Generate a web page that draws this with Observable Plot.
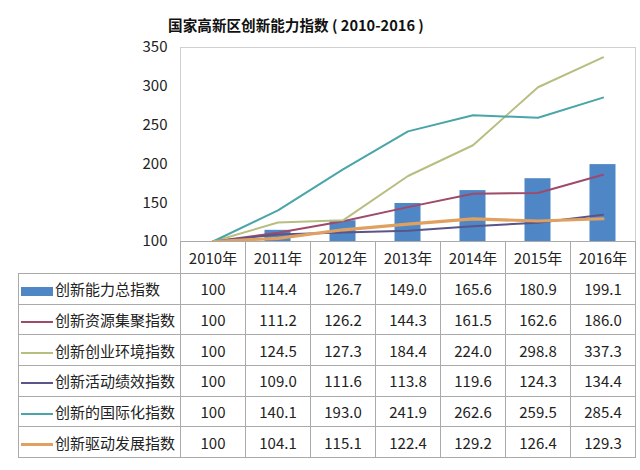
<!DOCTYPE html>
<html><head><meta charset="utf-8">
<script src="https://cdn.jsdelivr.net/npm/d3@7"></script>
<script src="https://cdn.jsdelivr.net/npm/@observablehq/plot@0.6"></script>
<style>
body{margin:0;background:#fff;width:640px;height:470px;overflow:hidden;font-family:"Noto Sans CJK SC","Noto Sans",sans-serif;}
#wrap{position:relative;width:640px;height:470px;}
#title{position:absolute;top:14px;left:0;width:592px;text-align:center;font-size:14.6px;font-weight:bold;color:#111;}
#chart{position:absolute;top:0;left:0;}
table{position:absolute;left:18px;top:241px;border-collapse:collapse;table-layout:fixed;font-size:15px;color:#222;}
td{border:1px solid #aaa;text-align:center;padding:0;white-space:nowrap;background:#fff;}
tr.h td{height:31px;}
tr.r td{height:29.7px;}
td.lab{text-align:left;padding-left:2px;}
td.blank{border:none;background:transparent;}
.sw{display:inline-block;width:32px;vertical-align:middle;margin-right:2px;}
</style></head>
<body><div id="wrap"><div id="title">国家高新区创新能力指数 ( 2010-2016 )</div><div id="chart"></div><table id="tbl"></table></div>
<script>
const years = ["2010年","2011年","2012年","2013年","2014年","2015年","2016年"];
const yTicks = [100,150,200,250,300,350];
const seriesNames = ["创新能力总指数","创新资源集聚指数","创新创业环境指数","创新活动绩效指数","创新的国际化指数","创新驱动发展指数"];
const total      = [100,114.4,126.7,149.0,165.6,180.9,199.1];
const resource   = [100,111.2,126.2,144.3,161.5,162.6,186.0];
const environ    = [100,124.5,127.3,184.4,224.0,298.8,337.3];
const activity   = [100,109.0,111.6,113.8,119.6,124.3,134.4];
const intl       = [100,140.1,193.0,241.9,262.6,259.5,285.4];
const drive      = [100,104.1,115.1,122.4,129.2,126.4,129.3];
const colors = ["#4F86C6","#9E4A6A","#B8BE80","#5A5588","#4AA5A8","#E0A060"];
const widths = [0,2,2,2,2,3.2];

const allSeries = [total,resource,environ,activity,intl,drive];
const barData = years.map((y,i)=>({year:y,value:total[i]}));
const lineSets = allSeries.slice(1).map((arr,k)=>({k:k+1,data:years.map((y,i)=>({year:y,value:arr[i]}))}));
const font = '"Noto Sans CJK SC","Noto Sans",sans-serif';

const plot = Plot.plot({
  width:640, height:256,
  marginLeft:180, marginRight:5, marginTop:47, marginBottom:15,
  style:{fontSize:"15px", fontFamily:font, color:"#222", background:"transparent"},
  x:{domain:years, padding:0, axis:null},
  y:{domain:[100,350], ticks:yTicks, tickSize:0, tickPadding:13, label:null},
  marks:[
    Plot.frame({stroke:"#d0d0d0"}),
    Plot.barY(barData,{x:"year", y1:100, y2:"value", fill:colors[0], insetLeft:19.5, insetRight:19.5}),
    ...lineSets.map(s=>Plot.line(s.data,{x:"year", y:"value", stroke:colors[s.k], strokeWidth:widths[s.k]})),
    Plot.ruleY([100],{stroke:"#999"})
  ]
});
document.getElementById("chart").appendChild(plot);

const tbl = document.getElementById("tbl");
const cg = document.createElement("colgroup");
[162,...years.map(()=>65)].forEach(w=>{const c=document.createElement("col");c.style.width=w+"px";cg.appendChild(c);});
tbl.appendChild(cg);
const hr = document.createElement("tr"); hr.className="h";
const b = document.createElement("td"); b.className="blank"; hr.appendChild(b);
years.forEach(y=>{const td=document.createElement("td");td.textContent=y;hr.appendChild(td);});
tbl.appendChild(hr);
seriesNames.forEach((name,k)=>{
  const tr=document.createElement("tr"); tr.className="r";
  const td=document.createElement("td"); td.className="lab";
  const sw=document.createElement("span"); sw.className="sw";
  if(k===0){sw.style.height="9px";sw.style.background=colors[0];}
  else{sw.style.height=(k===5?3:2)+"px";sw.style.background=colors[k];}
  td.appendChild(sw); td.appendChild(document.createTextNode(name)); tr.appendChild(td);
  allSeries[k].forEach(v=>{const c=document.createElement("td");c.textContent=(v===100?"100":v.toFixed(1));tr.appendChild(c);});
  tbl.appendChild(tr);
});
</script></body></html>
